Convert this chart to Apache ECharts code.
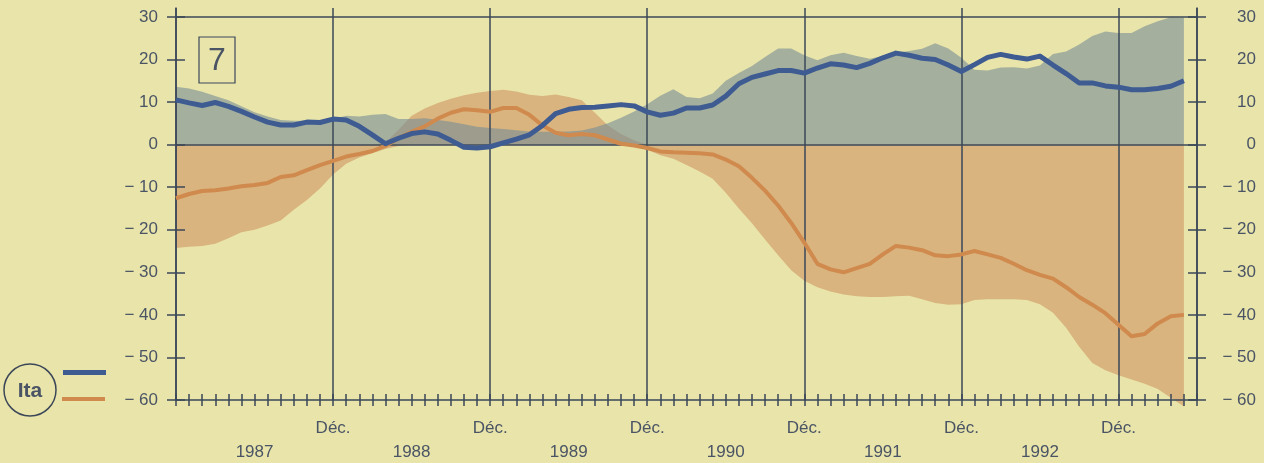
<!DOCTYPE html>
<html><head><meta charset="utf-8">
<script src="https://cdn.jsdelivr.net/npm/echarts@6/dist/echarts.min.js"></script>
<style>html,body{margin:0;padding:0;background:#e9e5aa;}#c{width:1264px;height:463px;}</style>
</head><body><div id="c"></div>
<script>
// ---- data (monthly, index 0 = Dec 1986 ... 77 = May 1993) ----
const yTicks = [-60, -50, -40, -30, -20, -10, 0, 10, 20, 30];
const refLines = [0, 30];
const decTicks = [12, 24, 36, 48, 60, 72];
const decLabel = 'Déc.';
const yearTicks = [6, 18, 30, 42, 54, 66];
const yearLabels = ['1987', '1988', '1989', '1990', '1991', '1992'];
const xMax = 78;

const blueLine = [
  10.5, 9.8, 9.2, 9.9, 9, 7.8, 6.5, 5.3, 4.6, 4.6, 5.3, 5.2,
  6, 5.8, 4.3, 2.3, 0.2, 1.5, 2.6, 3, 2.5, 1, -0.6, -0.8,
  -0.5, 0.4, 1.3, 2.3, 4.5, 7.3, 8.3, 8.7, 8.8, 9.1, 9.4, 9.1,
  7.7, 6.9, 7.4, 8.6, 8.6, 9.3, 11.4, 14.3, 15.8, 16.6, 17.4, 17.4,
  16.8, 18, 19, 18.7, 18.1, 19.1, 20.4, 21.5, 21, 20.3, 20, 18.7,
  17.2, 18.8, 20.5, 21.2, 20.6, 20.1, 20.8, 18.7, 16.7, 14.5, 14.5, 13.8,
  13.5, 12.9, 12.9, 13.2, 13.7, 15
];
const blueBand = [
  13.6, 13.2, 12.4, 11.4, 10.4, 9, 7.6, 6.6, 5.8, 5.6, 5.6, 5.4,
  6, 6.8, 6.6, 7, 7.2, 6, 6, 6.2, 5.8, 5.4, 4.8, 4.2,
  3.9, 3.7, 3.4, 3.1, 3, 3, 3.1, 3.3, 4, 5, 6.3, 7.8,
  9.5, 11.5, 13, 11.2, 10.9, 12, 15, 16.8, 18.5, 20.6, 22.6, 22.6,
  21, 19.8, 21, 21.6, 20.8, 20.2, 20.8, 21.6, 22, 22.5, 23.8, 22.6,
  20.4, 17.6, 17.4, 18.1, 18.2, 17.9, 18.6, 21.3, 21.9, 23.5, 25.5, 26.6,
  26.2, 26.2, 27.8, 29, 29.9, 29.8
];
const orangeLine = [
  -12.6, -11.6, -10.9, -10.7, -10.3, -9.8, -9.5, -9, -7.6, -7.2, -6, -4.8,
  -3.8, -2.8, -2.2, -1.5, -0.3, 1.5, 3, 4.3, 6.1, 7.5, 8.3, 8.1,
  7.7, 8.6, 8.6, 7, 4.5, 2.8, 2.2, 2.5, 2.2, 1.2, 0.2, -0.2,
  -0.8, -1.6, -1.8, -1.9, -2, -2.3, -3.5, -5.1, -7.8, -10.8, -14.3, -18.4,
  -23, -28, -29.3, -30, -29, -28, -25.8, -23.8, -24.2, -24.8, -26, -26.2,
  -25.8, -25, -25.8, -26.6, -28, -29.5, -30.6, -31.5, -33.5, -35.8, -37.6, -39.6,
  -42.3, -45, -44.5, -42, -40.3, -40
];
const orangeBandUp = [
  0, 0, 0, 0, 0, 0, 0, 0, 0, 0, 0, 0,
  0, 0, 0, 0, 0.5, 3.5, 6.8, 8.5, 9.8, 10.8, 11.6, 12.2,
  12.6, 12.9, 12.5, 11.7, 11.4, 11.8, 11.2, 10.4, 7.5, 4.5, 2.5, 1,
  0, 0, 0, 0, 0, 0, 0, 0, 0, 0, 0, 0,
  0, 0, 0, 0, 0, 0, 0, 0, 0, 0, 0, 0,
  0, 0, 0, 0, 0, 0, 0, 0, 0, 0, 0, 0,
  0, 0, 0, 0, 0, 0
];
const orangeBandDown = [
  -24.3, -24, -23.8, -23.3, -22, -20.6, -20, -19, -17.8, -15.3, -13, -10.3,
  -7, -4.5, -3, -2, -1, -0.3, 0, 0, 0, 0, 0, 0,
  0, 0, 0, 0, 0, 0, 0, 0, 0, 0, 0, -0.5,
  -1.2, -2.5, -3.3, -4.8, -6.3, -8, -11.3, -15, -18.5, -22.3, -26, -29.5,
  -32, -33.5, -34.5, -35.2, -35.6, -35.8, -35.8, -35.6, -35.5, -36.3, -37.2, -37.6,
  -37.5, -36.5, -36.3, -36.3, -36.3, -36.5, -37.5, -39.5, -43, -47.5, -51.3, -53,
  -54.2, -55.2, -56.2, -57.4, -59.5, -61.5
];

const nameBlue = 'Ita (bleu)';
const nameOrange = 'Ita (orange)';

// ---- styles ----
const axisColor = '#3b4759';
const textColor = '#4a5465';
const font = '"Liberation Sans", Arial, Helvetica, sans-serif';
const blueColor = '#3e5b92';
const orangeColor = '#d08a4d';
const orangeFill = '#d9b47f';
const blueFill = 'rgba(118,140,148,0.6)';

const pairs = arr => arr.map((v, i) => [i, v]);
const yFmt = v => (v < 0 ? '\u2212 ' + Math.abs(v) : String(v));

const chart = echarts.init(document.getElementById('c'), null, { renderer: 'canvas' });

const lblStyle = { color: textColor, fontSize: 17, fontFamily: font };
const lineSt = { color: axisColor, width: 1.5 };

function yAx(pos, inside, withLine, withLabel) {
  return {
    type: 'value', min: -60, max: 32.1, interval: 10, position: pos, z: 2,
    axisLine: { show: withLine, onZero: false, lineStyle: lineSt },
    axisTick: { show: true, inside: inside, length: 9, customValues: yTicks, lineStyle: lineSt },
    axisLabel: withLabel ? Object.assign({
      show: true, customValues: yTicks, formatter: yFmt,
      margin: pos === 'left' ? 18 : 59, align: 'right'
    }, lblStyle) : { show: false },
    splitLine: { show: false }
  };
}

const option = {
  animation: false,
  backgroundColor: '#e9e5aa',
  grid: { left: 176, right: 67, top: 8, bottom: 63, containLabel: false },
  xAxis: [
    {
      type: 'value', min: 0, max: xMax, interval: 1, position: 'bottom', z: 2,
      axisLine: { show: true, onZero: false, lineStyle: lineSt },
      axisTick: { show: true, inside: false, length: 6, lineStyle: lineSt },
      axisLabel: Object.assign({ show: true, customValues: decTicks, formatter: () => decLabel, margin: 20 }, lblStyle),
      splitLine: { show: false }
    },
    {
      type: 'value', min: 0, max: xMax, interval: 1, position: 'bottom', offset: 0, z: 2,
      axisLine: { show: false, onZero: false },
      axisTick: { show: true, inside: true, length: 6, lineStyle: lineSt },
      axisLabel: Object.assign({
        show: true, customValues: yearTicks,
        formatter: v => yearLabels[yearTicks.indexOf(v)] || '', margin: 44
      }, lblStyle),
      splitLine: { show: false }
    },
    {
      type: 'value', min: 0, max: xMax, interval: 12, position: 'bottom', offset: 0, z: 2,
      axisLine: { show: false, onZero: false }, axisTick: { show: false }, axisLabel: { show: false },
      splitLine: { show: true, lineStyle: lineSt }
    }
  ],
  yAxis: [
    yAx('left', false, true, true),
    yAx('left', true, false, false),
    yAx('right', false, true, true),
    yAx('right', true, false, false)
  ],
  legend: [
    { data: [nameBlue], left: 63, top: 370, padding: 0, icon: 'rect', itemWidth: 43, itemHeight: 5,
      formatter: () => '', textStyle: { fontSize: 1 }, selectedMode: false },
    { data: [nameOrange], left: 62, top: 397, padding: 0, icon: 'rect', itemWidth: 43, itemHeight: 4,
      formatter: () => '', textStyle: { fontSize: 1 }, selectedMode: false }
  ],
  graphic: [
    { type: 'circle', shape: { cx: 30, cy: 390, r: 26 }, style: { fill: 'none', stroke: axisColor, lineWidth: 1.5 } },
    { type: 'text', x: 30, y: 391, style: { text: 'Ita', font: 'bold 21px ' + font, fill: textColor, align: 'center', verticalAlign: 'middle' } },
    { type: 'rect', shape: { x: 199, y: 37, width: 36, height: 46 }, style: { fill: 'none', stroke: axisColor, lineWidth: 1.2 } },
    { type: 'text', x: 217, y: 61, style: { text: '7', font: '32px ' + font, fill: textColor, align: 'center', verticalAlign: 'middle' } }
  ],
  series: [
    { name: 'orange band up', type: 'line', data: pairs(orangeBandUp), showSymbol: false, symbol: 'none', z: 1,
      lineStyle: { width: 0 }, areaStyle: { color: orangeFill, opacity: 1 }, silent: true },
    { name: 'orange band down', type: 'line', data: pairs(orangeBandDown), showSymbol: false, symbol: 'none', z: 1, clip: false,
      lineStyle: { width: 0 }, areaStyle: { color: orangeFill, opacity: 1 }, silent: true },
    { name: 'blue band', type: 'line', data: pairs(blueBand), showSymbol: false, symbol: 'none', z: 1,
      lineStyle: { width: 0 }, areaStyle: { color: blueFill, opacity: 1 }, silent: true },
    { name: nameOrange, type: 'line', data: pairs(orangeLine), showSymbol: false, symbol: 'none', z: 3,
      itemStyle: { color: orangeColor }, lineStyle: { color: orangeColor, width: 4, join: 'round' } },
    { name: nameBlue, type: 'line', data: pairs(blueLine), showSymbol: false, symbol: 'none', z: 4,
      itemStyle: { color: blueColor }, lineStyle: { color: blueColor, width: 5, join: 'round' },
      markLine: { silent: true, symbol: 'none', label: { show: false }, z: 3,
        lineStyle: { color: axisColor, width: 1.5, type: 'solid' },
        data: refLines.map(v => ({ yAxis: v })) } }
  ]
};
chart.setOption(option);
</script>
</body></html>
